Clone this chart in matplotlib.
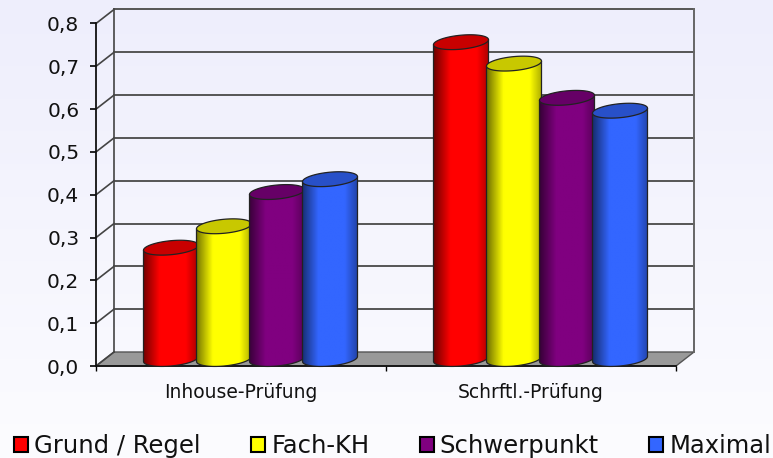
import numpy as np
import matplotlib
matplotlib.use('Agg')
import matplotlib.pyplot as plt
from matplotlib.patches import Patch, PathPatch, Polygon
from matplotlib.path import Path

plt.rcParams['font.family'] = ['DejaVu Sans']

categories = ['Inhouse-Prüfung', 'Schrftl.-Prüfung']
series_names = ['Grund / Regel', 'Fach-KH', 'Schwerpunkt', 'Maximal']
grund = [0.26, 0.74]
fach = [0.31, 0.69]
schwerpunkt = [0.39, 0.61]
maximal = [0.42, 0.58]
y_ticks = [0.0, 0.1, 0.2, 0.3, 0.4, 0.5, 0.6, 0.7, 0.8]
y_labels = ['0,0', '0,1', '0,2', '0,3', '0,4', '0,5', '0,6', '0,7', '0,8']

body_colors = ['#ff0000', '#ffff00', '#800080', '#3366ff']
top_colors = ['#c80000', '#c8c800', '#660066', '#2850c8']

W, H = 773, 458
fig = plt.figure(figsize=(W / 100, H / 100), dpi=100)

# background gradient
ax_bg = fig.add_axes([0, 0, 1, 1], zorder=-1)
ax_bg.imshow(np.linspace(0, 1, 256).reshape(-1, 1, 1) * np.array([[[14, 14, 3]]]) / 255
             + np.array([[[238, 238, 252]]]) / 255, aspect='auto')
ax_bg.axis('off')

left, right, bottom, top = 96, 676, 366, 23.5
ax = fig.add_axes([left / W, 1 - bottom / H, (right - left) / W, (bottom - top) / H])
ax.patch.set_alpha(0)
ax.set_xlim(0, 2)
ax.set_ylim(0, 0.8)

# scales, px -> data units
px_x = 2 / (right - left)
px_y = 0.8 / (bottom - top)
dx = 18 * px_x
dy = 14 * px_y

# floor and back wall
floor = Polygon([(0, 0), (2, 0), (2 + dx, dy), (dx, dy)], closed=True,
                facecolor='#999999', edgecolor='#555555', lw=1, clip_on=False, zorder=1)
ax.add_patch(floor)
for y in y_ticks:
    ax.plot([0, dx], [y, y + dy], color='#444444', lw=1.2, clip_on=False, zorder=1)
    if y > 0:
        ax.plot([dx, 2 + dx], [y + dy, y + dy], color='#555555', lw=1.4, clip_on=False, zorder=1)
ax.plot([dx, dx], [dy, 0.8 + dy], color='#444444', lw=1.2, clip_on=False, zorder=1)
ax.plot([2 + dx, 2 + dx], [dy, 0.8 + dy], color='#666666', lw=1.4, clip_on=False, zorder=1)


def ellipse_points(xc, yc, a, b, k, t):
    return np.column_stack([xc + a * np.cos(t), yc + b * np.sin(t) + k * np.cos(t)])


def draw_cylinder(xc, value, body, top_col, z):
    a = 27.5 * px_x
    b = 7 * px_y
    k = 2.5 * px_y
    y0 = dy / 2
    y1 = value + dy / 2
    arc = ellipse_points(xc, y0, a, b, k, np.linspace(np.pi, 2 * np.pi, 40))
    pts = np.vstack([arc, [[xc + a, y1 + k]], [[xc - a, y1 - k]], arc[:1]])
    outline = PathPatch(Path(pts), facecolor='none', edgecolor='#222222', lw=0.9, zorder=z + 0.2,
                        clip_on=False, joinstyle='round')
    # left to right shading of the barrel
    u = np.linspace(0, 1, 128)
    shade = np.interp(u, [0, 0.3, 0.78, 1], [0.45, 1, 1, 0.68])
    rgb = np.array(matplotlib.colors.to_rgb(body))
    grad = (shade[:, None] * rgb)[None, :, :]
    im = ax.imshow(grad, extent=[xc - a, xc + a, y0 - b - k, y1 + b + k], aspect='auto',
                   origin='lower', zorder=z, interpolation='bilinear')
    clip = PathPatch(Path(pts), transform=ax.transData, facecolor='none', edgecolor='none')
    ax.add_patch(clip)
    im.set_clip_path(clip)
    ax.add_patch(outline)
    cap = ellipse_points(xc, y1, a, b, k, np.linspace(0, 2 * np.pi, 80))
    ax.add_patch(Polygon(cap, closed=True, facecolor=top_col, edgecolor='#222222', lw=0.9,
                         zorder=z + 0.3, clip_on=False))


step = 53 * px_x
series = [grund, fach, schwerpunkt, maximal]
for g in range(len(categories)):
    center = g + 0.5 + dx / 2 + 0.5 * px_x
    for s, values in enumerate(series):
        xc = center + (s - 1.5) * step
        draw_cylinder(xc, values[g], body_colors[s], top_colors[s], 3 + s)

ax.set_xlim(0, 2)
ax.set_ylim(0, 0.8)

for name in ['top', 'right']:
    ax.spines[name].set_visible(False)
for name in ['left', 'bottom']:
    ax.spines[name].set_linewidth(1.3)
    ax.spines[name].set_color('#111111')
    ax.spines[name].set_zorder(2)

ax.set_yticks(y_ticks)
ax.set_yticklabels(y_labels, fontsize=14.5, color='#111111')
ax.set_xticks([0, 1, 2])
ax.set_xticklabels([])
ax.set_xticks([0.5, 1.5], minor=True)
ax.set_xticklabels(categories, minor=True, fontsize=13.5, color='#111111')
ax.tick_params(axis='y', length=4.5, width=1.2, pad=7.5)
ax.tick_params(axis='x', which='major', length=3.5, width=1)
ax.tick_params(axis='x', which='minor', length=0, pad=12)

handles = [Patch(facecolor=c, edgecolor='black', lw=1.5) for c in body_colors]
leg = fig.legend(handles, series_names, ncol=4, loc='lower left', bbox_to_anchor=(14 / W, 0),
                 frameon=False, fontsize=17.5, handlelength=0.58, handleheight=0.6,
                 handletextpad=0.25, columnspacing=2.07, borderpad=0, borderaxespad=0)
for t in leg.get_texts():
    t.set_color('#111111')

fig.savefig('out.png', dpi=100)
